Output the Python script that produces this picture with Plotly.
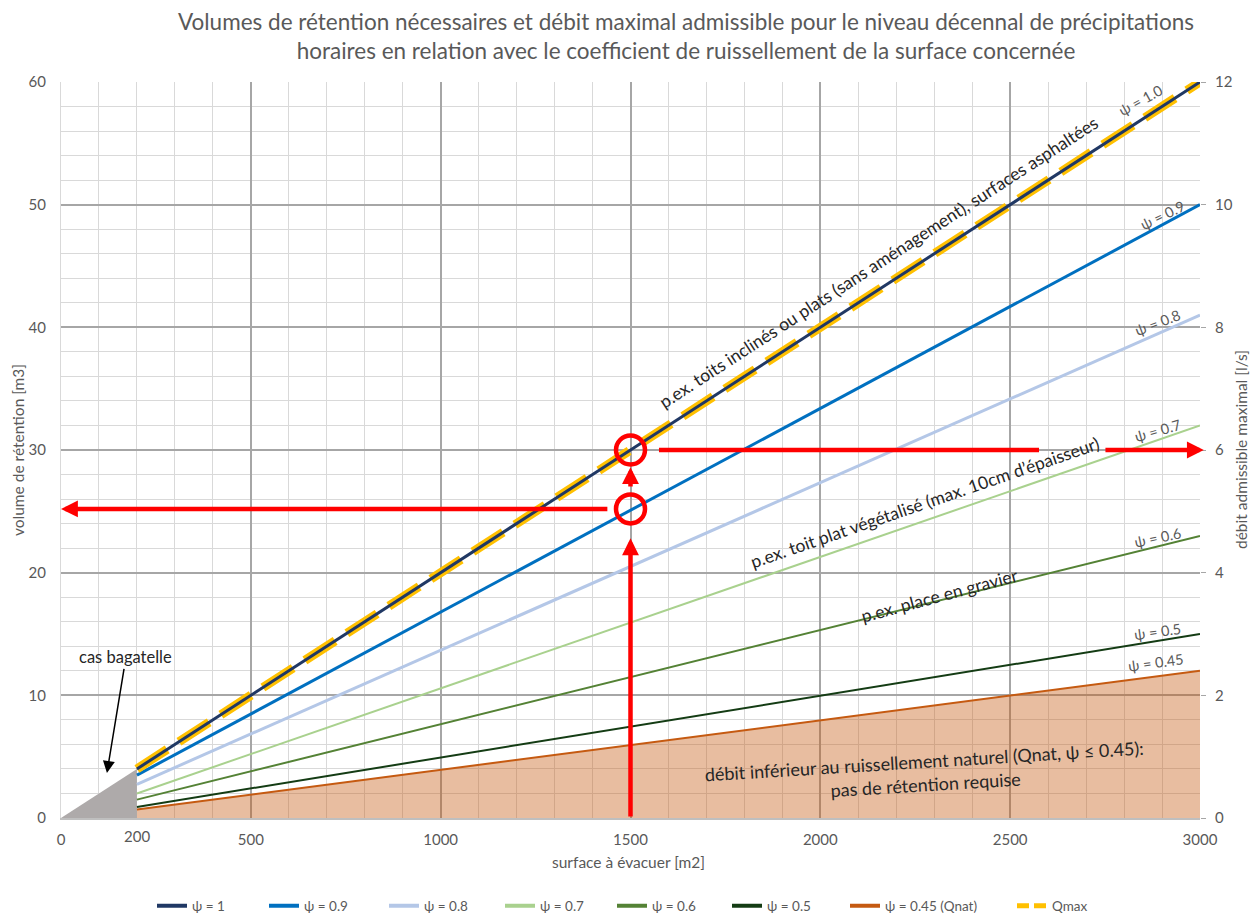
import plotly.graph_objects as go

# ---------------- data ----------------
surface = [200, 3000]                      # surface à évacuer [m2] (line end points)
psi_names = ["ψ = 1", "ψ = 0.9", "ψ = 0.8", "ψ = 0.7", "ψ = 0.6", "ψ = 0.5", "ψ = 0.45 (Qnat)"]
psi_labels = ["ψ = 1.0", "ψ = 0.9", "ψ = 0.8", "ψ = 0.7", "ψ = 0.6", "ψ = 0.5", "ψ = 0.45"]
vol_psi_1 = [4.0, 60.0]
vol_psi_09 = [3.5, 50.0]
vol_psi_08 = [2.75, 41.0]
vol_psi_07 = [2.0, 32.0]
vol_psi_06 = [1.5, 23.0]
vol_psi_05 = [0.9, 15.0]
vol_psi_045 = [0.7, 12.0]
qmax_vol = [4.0, 60.0]                     # Qmax, on the volume scale
qmax_ls = [0.8, 12.0]                      # Qmax in l/s (right axis)
bagatelle_x = [0, 200, 200]
bagatelle_y = [0, 0, 4]

# reading example (1500 m2)
ex_surface = 1500
ex_vol_09 = 25.2
ex_vol_1 = 30.0
ex_arrow_up_top = 22.8
ex_arrow_small = [26.9, 28.6]
ex_left_start = 1443
ex_right_seg = [1575, 2576]
ex_right_arrow = [2747, 3010]

# label positions (data coords) and angles
psi_label_x = [2842, 2900, 2889, 2889, 2889, 2889, 2884]
psi_label_y = [58.5, 49.1, 40.4, 31.6, 22.9, 15.2, 12.7]
psi_label_angle = [-29, -26, -21, -16, -12, -8, -8]

colors = ["#203864", "#0070C0", "#B4C7E7", "#A9D18E", "#548235", "#143C14", "#C55A11"]
widths = [3, 3, 3, 2, 2, 2, 2]
series = [vol_psi_1, vol_psi_09, vol_psi_08, vol_psi_07, vol_psi_06, vol_psi_05, vol_psi_045]

# legend entry left positions (pixels in the 1258 wide page)
legend_px = [160, 272, 392, 508, 620, 735, 853, 1020]

FONT = "Lato"
GRAY = "#595959"
TXT = "#262626"
OFF = 8                               # page body margin
PL, PR, PT, PB = 61, 1200, 82, 818    # plot area in page pixels
PW, PH = PR - PL, PB - PT
FW, FH = 1258 - 2 * OFF, 917 - OFF

legend_ids = ["legend"] + ["legend%d" % k for k in range(2, 9)]

fig = go.Figure()

# gray "cas bagatelle" triangle
fig.add_trace(go.Scatter(x=bagatelle_x, y=bagatelle_y, fill="toself", fillcolor="#AEAAAA",
                         mode="lines", line=dict(width=0), showlegend=False, hoverinfo="skip"))
# Qnat fill area
fig.add_trace(go.Scatter(x=surface, y=vol_psi_045, fill="tozeroy", fillcolor="rgba(197,90,17,0.40)",
                         mode="lines", line=dict(width=0), showlegend=False, hoverinfo="skip"))

# psi lines, drawn from lowest to highest (psi=1 drawn last, on top of Qmax)
for i in range(6, 0, -1):
    fig.add_trace(go.Scatter(x=surface, y=series[i], mode="lines", name=psi_names[i],
                             line=dict(color=colors[i], width=widths[i]), showlegend=False))

fig.add_trace(go.Scatter(x=surface, y=qmax_vol, mode="lines", name="Qmax",
                         line=dict(color="#FFC000", width=9, dash="36px,14px"), showlegend=False))
fig.add_trace(go.Scatter(x=surface, y=series[0], mode="lines", name=psi_names[0],
                         line=dict(color=colors[0], width=3), showlegend=False))

# legend entries (legend-only traces, thicker glyphs as in the original)
for i in range(7):
    fig.add_trace(go.Scatter(x=[None], y=[None], mode="lines", name=psi_names[i],
                             line=dict(color=colors[i], width=4), legend=legend_ids[i]))
fig.add_trace(go.Scatter(x=[None], y=[None], mode="lines", name="Qmax",
                         line=dict(color="#FFC000", width=5, dash="12px,5px"), legend=legend_ids[7]))

# right axis trace (Qmax in l/s) - invisible, drives the right axis
fig.add_trace(go.Scatter(x=surface, y=qmax_ls, mode="lines", yaxis="y2",
                         line=dict(color="rgba(0,0,0,0)", width=0), showlegend=False, hoverinfo="skip"))

# red reading example
RED = "#FF0000"
fig.add_trace(go.Scatter(x=ex_right_seg, y=[ex_vol_1, ex_vol_1], mode="lines",
                         line=dict(color=RED, width=4.5), showlegend=False, hoverinfo="skip"))
fig.add_trace(go.Scatter(x=[ex_surface, ex_surface], y=[ex_vol_1, ex_vol_09], mode="markers",
                         marker=dict(symbol="circle-open", size=29, color=RED, line=dict(width=4.5, color=RED)),
                         showlegend=False, hoverinfo="skip"))

annotations = []

def red_arrow(x0, y0, x1, y1):
    annotations.append(dict(x=x1, y=y1, ax=x0, ay=y0, xref="x", yref="y", axref="x", ayref="y",
                            showarrow=True, arrowhead=2, arrowsize=0.75, arrowwidth=4.5,
                            arrowcolor=RED, text=""))

red_arrow(ex_surface, 0, ex_surface, ex_arrow_up_top)
red_arrow(ex_surface, ex_arrow_small[0], ex_surface, ex_arrow_small[1])
red_arrow(ex_left_start, ex_vol_09, 0, ex_vol_09)
red_arrow(ex_right_arrow[0], ex_vol_1, ex_right_arrow[1], ex_vol_1)

# psi labels
for lx, ly, la, lt in zip(psi_label_x, psi_label_y, psi_label_angle, psi_labels):
    annotations.append(dict(x=lx, y=ly, xref="x", yref="y", text=lt, showarrow=False,
                            textangle=la, font=dict(family=FONT, size=14.5, color=GRAY)))

# descriptive texts
annotations += [
    dict(x=2152, y=45.3, xref="x", yref="y", showarrow=False, textangle=-33,
         text="p.ex. toits inclinés ou plats (sans aménagement), surfaces asphaltées",
         font=dict(family=FONT, size=17.5, color=TXT)),
    dict(x=2275, y=25.75, xref="x", yref="y", showarrow=False, textangle=-19,
         text="p.ex. toit plat végétalisé (max. 10cm d’épaisseur)",
         font=dict(family=FONT, size=17.5, color=TXT)),
    dict(x=2315, y=18.1, xref="x", yref="y", showarrow=False, textangle=-15,
         text="p.ex. place en gravier",
         font=dict(family=FONT, size=17.5, color=TXT)),
    dict(x=2276, y=3.75, xref="x", yref="y", showarrow=False, textangle=-3.5,
         text="débit inférieur au ruissellement naturel (Qnat, ψ ≤ 0.45):<br>pas de rétention requise",
         font=dict(family=FONT, size=18, color=TXT)),
    dict(x=121, y=3.67, ax=171, ay=13.1, xref="x", yref="y", axref="x", ayref="y",
         text="cas bagatelle", showarrow=True, arrowhead=2, arrowsize=1.6, arrowwidth=1.5,
         arrowcolor="#000000", font=dict(family=FONT, size=16.5, color=TXT)),
    # extra tick label at 200
    dict(x=200, y=0, xref="x", yref="paper", xanchor="center", yanchor="top", yshift=-7,
         showarrow=False, text="200", font=dict(family=FONT, size=15, color=GRAY)),
    # axis titles
    dict(x=(18 - PL) / PW, y=0.5, xref="paper", yref="paper", xanchor="center", yanchor="middle",
         showarrow=False, textangle=-90,
         text="volume de rétention [m3]", font=dict(family=FONT, size=15.5, color=GRAY)),
    dict(x=(1241 - PL) / PW, y=0.5, xref="paper", yref="paper", xanchor="center", yanchor="middle",
         showarrow=False, textangle=-90,
         text="débit admissible maximal [l/s]", font=dict(family=FONT, size=15.5, color=GRAY)),
    dict(x=(628 - PL) / PW, y=(PB - 862) / PH, xref="paper", yref="paper", xanchor="center",
         yanchor="middle", showarrow=False,
         text="surface à évacuer [m2]", font=dict(family=FONT, size=15.5, color=GRAY)),
    # title
    dict(x=(686 - PL) / PW, y=(PB - 6) / PH, xref="paper", yref="paper", xanchor="center",
         yanchor="top", showarrow=False,
         text="Volumes de rétention nécessaires et débit maximal admissible pour le niveau décennal de précipitations<br>horaires en relation avec le coefficient de ruissellement de la surface concernée",
         font=dict(family=FONT, size=22.5, color=GRAY)),
]

legends = {}
for k, lid in enumerate(legend_ids):
    legends[lid] = dict(orientation="h", x=(legend_px[k] - 8 - PL) / PW, xanchor="left",
                        y=(PB - 906) / PH, yanchor="middle", bgcolor="rgba(0,0,0,0)",
                        font=dict(family=FONT, size=13.5, color=GRAY))

fig.update_layout(
    width=FW, height=FH,
    margin=dict(l=PL - OFF, r=FW + OFF - PR, t=PT - OFF, b=FH + OFF - PB, autoexpand=False),
    paper_bgcolor="white", plot_bgcolor="white",
    xaxis=dict(range=[0, 3000], tickvals=list(range(0, 3001, 500)), showgrid=True,
               gridcolor="#A6A6A6", gridwidth=1.5, zeroline=False,
               minor=dict(dtick=100, tick0=0, showgrid=True, gridcolor="#D9D9D9", gridwidth=1),
               showline=True, linecolor="#BFBFBF", linewidth=1.5,
               ticklabelstandoff=7, tickfont=dict(family=FONT, size=15, color=GRAY)),
    yaxis=dict(range=[0, 60], tickvals=list(range(0, 61, 10)), showgrid=True,
               gridcolor="#A6A6A6", gridwidth=1.5, zeroline=False,
               minor=dict(dtick=2, tick0=0, showgrid=True, gridcolor="#D9D9D9", gridwidth=1),
               showline=True, linecolor="#D9D9D9", linewidth=1,
               ticklabelstandoff=11, tickfont=dict(family=FONT, size=15, color=GRAY)),
    yaxis2=dict(range=[0, 12], tickvals=list(range(0, 13, 2)), overlaying="y", side="right",
                showgrid=False, zeroline=False, ticks="outside", ticklen=5, tickcolor="#A6A6A6",
                ticklabelstandoff=6, tickfont=dict(family=FONT, size=15, color=GRAY)),
    annotations=annotations,
    showlegend=True,
    **legends,
)

fig.write_html("out.html")
